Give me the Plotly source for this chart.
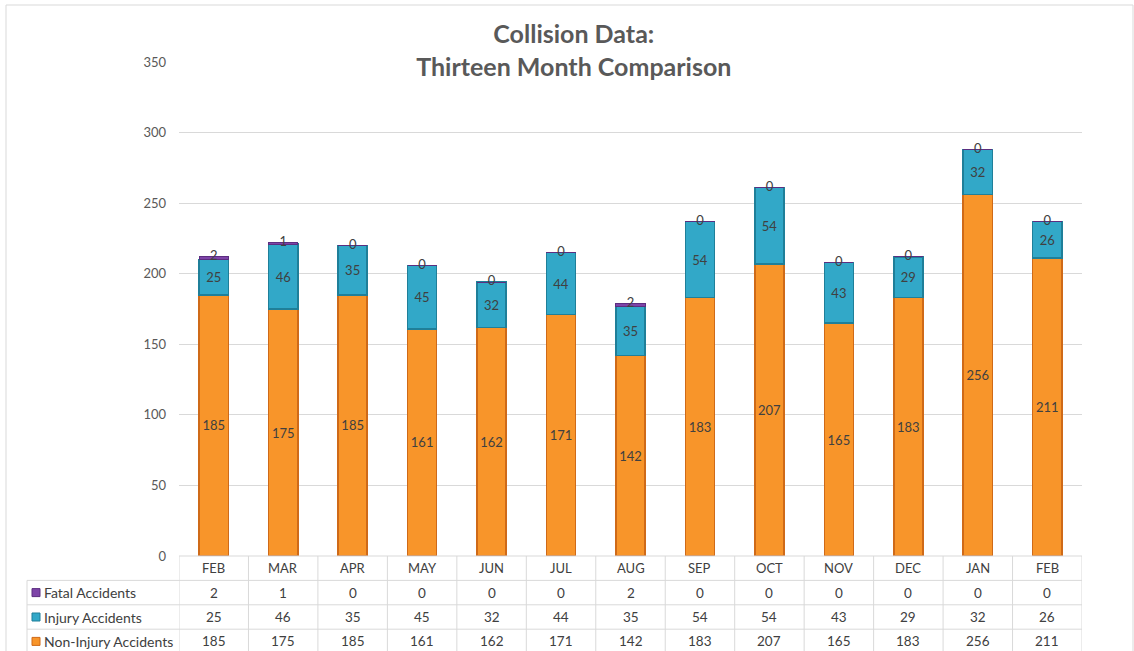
import plotly.graph_objects as go

# ---------------- data ----------------
months = ["FEB", "MAR", "APR", "MAY", "JUN", "JUL", "AUG", "SEP", "OCT", "NOV", "DEC", "JAN", "FEB"]
fatal = [2, 1, 0, 0, 0, 0, 2, 0, 0, 0, 0, 0, 0]
injury = [25, 46, 35, 45, 32, 44, 35, 54, 54, 43, 29, 32, 26]
non_injury = [185, 175, 185, 161, 162, 171, 142, 183, 207, 165, 183, 256, 211]
series_names = ["Fatal Accidents", "Injury Accidents", "Non-Injury Accidents"]
y_ticks = [0, 50, 100, 150, 200, 250, 300, 350]
title_text = "Collision Data:<br>Thirteen Month Comparison"

# ---------------- styles ----------------
FONT = "Lato, 'Open Sans', sans-serif"
TXT = "#404040"
AX = "#595959"
GRID = "#D9D9D9"
C_ORANGE, L_ORANGE = "#F8952A", "#CF6A18"
C_TEAL, L_TEAL = "#32A8C8", "#1F7F99"
C_PURPLE, L_PURPLE = "#7E44A8", "#5C2E80"

x = list(range(len(months)))
totals = [a + b + c for a, b, c in zip(fatal, injury, non_injury)]
BAR_W = 0.42

fig = go.Figure()
fig.add_trace(go.Bar(
    x=x, y=non_injury, name=series_names[2], width=BAR_W,
    marker=dict(color=C_ORANGE, line=dict(color=L_ORANGE, width=1.5)),
    text=[str(v) for v in non_injury], textposition="inside", insidetextanchor="middle",
    textangle=0, constraintext="none",
    textfont=dict(family=FONT, size=13, color=TXT),
    hoverinfo="skip",
))
fig.add_trace(go.Bar(
    x=x, y=injury, name=series_names[1], width=BAR_W,
    marker=dict(color=C_TEAL, line=dict(color=L_TEAL, width=1.5)),
    text=[str(v) for v in injury], textposition="inside", insidetextanchor="middle",
    textangle=0, constraintext="none",
    textfont=dict(family=FONT, size=13, color=TXT),
    hoverinfo="skip",
))
fig.add_trace(go.Bar(
    x=x, y=fatal, name=series_names[0], width=BAR_W,
    marker=dict(color=C_PURPLE, line=dict(color=L_PURPLE, width=1)),
    hoverinfo="skip",
))
fig.add_trace(go.Scatter(
    x=x, y=totals, mode="text", text=[str(v) for v in fatal],
    textposition="middle center", textfont=dict(family=FONT, size=13, color=TXT),
    showlegend=False, hoverinfo="skip",
))

# ---------------- data table under the plot ----------------
PH = 494.0           # plot height in px
ROW = 24.4 / PH      # row height in paper units
LEFT = (27 - 179) / 903.0
n = len(months)
shapes = []
annotations = []

line = dict(color=GRID, width=1)
# horizontal lines
shapes.append(dict(type="line", xref="x", yref="paper", x0=-0.5, x1=n - 0.5, y0=0, y1=0, line=line))
for k in range(1, 5):
    shapes.append(dict(type="line", xref="paper", yref="paper", x0=LEFT, x1=1, y0=-k * ROW, y1=-k * ROW, line=line))
# vertical lines
for i in range(n + 1):
    shapes.append(dict(type="line", xref="x", yref="paper", x0=i - 0.5, x1=i - 0.5, y0=0, y1=-4 * ROW, line=line))
shapes.append(dict(type="line", xref="paper", yref="paper", x0=LEFT, x1=LEFT, y0=-ROW, y1=-4 * ROW, line=line))

# header
for i, m in enumerate(months):
    annotations.append(dict(xref="x", yref="paper", x=i, y=-0.5 * ROW, text=m, showarrow=False,
                            font=dict(family=FONT, size=13, color=TXT), xanchor="center", yanchor="middle"))
rows = [(series_names[0], fatal, C_PURPLE, L_PURPLE),
        (series_names[1], injury, C_TEAL, L_TEAL),
        (series_names[2], non_injury, C_ORANGE, L_ORANGE)]
KEY = 8
for r, (name, vals, col, lcol) in enumerate(rows, start=1):
    yc = -(r + 0.5) * ROW
    for i, v in enumerate(vals):
        annotations.append(dict(xref="x", yref="paper", x=i, y=yc, text=str(v), showarrow=False,
                                font=dict(family=FONT, size=13.5, color=TXT), xanchor="center", yanchor="middle"))
    # legend key square
    kx0 = (32 - 179) / 903.0
    kx1 = (32 + KEY - 179) / 903.0
    shapes.append(dict(type="rect", xref="paper", yref="paper", x0=kx0, x1=kx1,
                       y0=yc - KEY / 2 / PH, y1=yc + KEY / 2 / PH,
                       fillcolor=col, line=dict(color=lcol, width=1)))
    annotations.append(dict(xref="paper", yref="paper", x=(42 - 179) / 903.0, y=yc, text=name, showarrow=False,
                            font=dict(family=FONT, size=14, color=TXT), xanchor="left", yanchor="middle"))

# chart-area border
shapes.append(dict(type="rect", xref="paper", yref="paper",
                   x0=(6 - 179) / 903.0, x1=(1133 - 179) / 903.0,
                   y0=(556 - 660) / PH, y1=(556 - 5) / PH,
                   line=dict(color=GRID, width=1), fillcolor="rgba(0,0,0,0)", layer="below"))

fig.update_layout(
    width=1134, height=651,
    barmode="stack",
    showlegend=False,
    paper_bgcolor="white", plot_bgcolor="white",
    margin=dict(l=179, r=52, t=62, b=95),
    title=dict(text=title_text, x=0.506, xref="container", xanchor="center",
               y=1 - 43 / 651, yref="container", yanchor="top",
               font=dict(family=FONT, size=25, color=AX, weight="bold")),
    xaxis=dict(range=[-0.5, n - 0.5], showticklabels=False, showgrid=False, zeroline=False,
               showline=False, ticks="", fixedrange=True),
    yaxis=dict(range=[0, 350], tickvals=y_ticks, showgrid=True, gridcolor=GRID, gridwidth=1,
               zeroline=False, showline=False, ticks="", ticklabelstandoff=12,
               tickfont=dict(family=FONT, size=13, color=AX)),
    shapes=shapes,
    annotations=annotations,
    font=dict(family=FONT),
)

fig.write_html("out.html", config={"displayModeBar": False},
               post_script="document.body.style.margin='0';document.body.style.overflow='hidden';")
